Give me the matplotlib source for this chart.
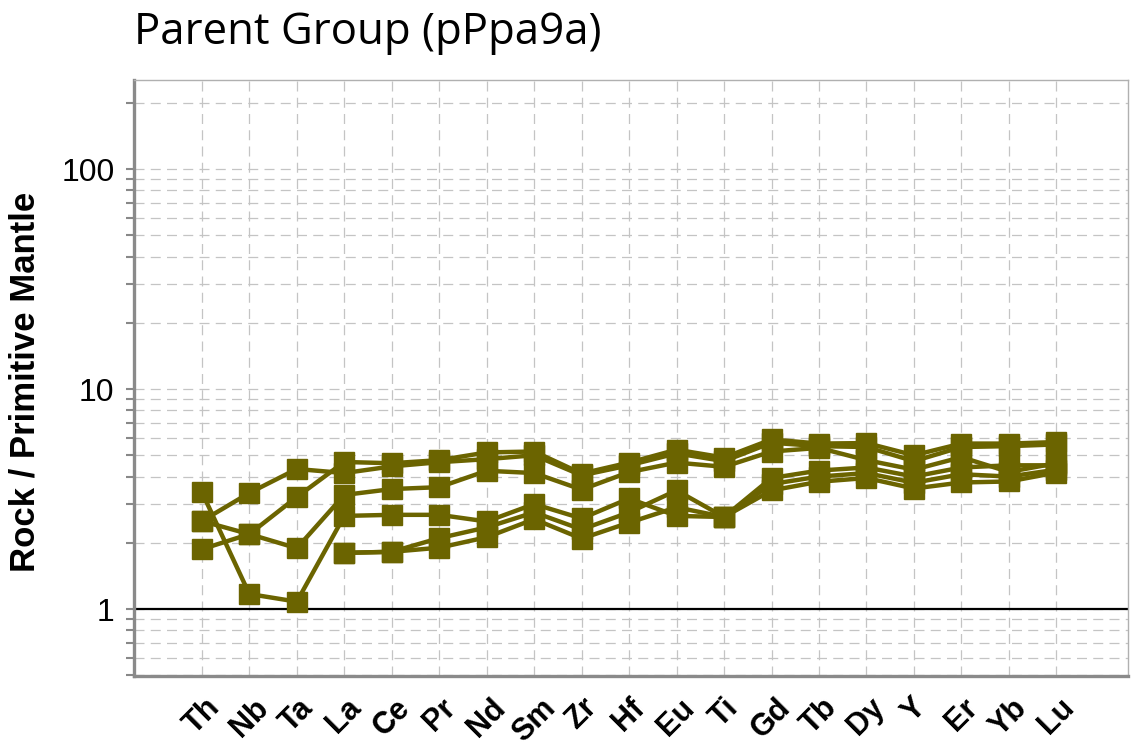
import numpy as np
import matplotlib
matplotlib.use("Agg")
import matplotlib.pyplot as plt
from matplotlib.ticker import LogLocator, FixedLocator, NullFormatter

elements = ["Th", "Nb", "Ta", "La", "Ce", "Pr", "Nd", "Sm", "Zr", "Hf",
            "Eu", "Ti", "Gd", "Tb", "Dy", "Y", "Er", "Yb", "Lu"]

nan = np.nan
sample_A = [3.40, 1.17, 1.08, 2.65, 2.68, 2.68, 2.50, 3.00, 2.58, 3.18,
            2.65, 2.62, 3.94, 4.26, 4.40, 4.00, 4.40, 4.50, 4.50]
sample_B = [2.51, 3.37, 4.33, 4.15, 4.45, 4.65, 4.80, 5.00, 4.05, 4.50,
            5.10, 4.70, 5.70, 5.50, 5.45, 4.70, 5.45, 5.50, 5.60]
sample_C = [2.51, 2.19, 1.89, 3.30, 3.51, 3.58, 4.25, 4.15, 3.49, 4.19,
            4.63, 4.43, 5.20, 5.40, 4.75, 4.30, 4.90, 4.20, 4.60]
sample_D = [1.87, 2.19, 3.23, 4.66, 4.60, 4.75, 5.15, 5.20, 4.13, 4.63,
            5.30, 4.88, 5.90, 5.65, 5.68, 5.00, 5.65, 5.65, 5.74]
sample_E = [nan, nan, nan, 1.80, 1.82, 2.10, 2.35, 2.75, 2.30, 2.75,
            3.46, 2.62, 3.70, 4.00, 4.15, 3.75, 4.10, 4.00, 4.30]
sample_F = [nan, nan, nan, 1.80, 1.82, 1.90, 2.12, 2.56, 2.09, 2.47,
            2.90, 2.62, 3.46, 3.79, 3.94, 3.53, 3.76, 3.80, 4.17]

series = [sample_A, sample_B, sample_C, sample_D, sample_E, sample_F]

title = "Parent Group (pPpa9a)"
ylabel = "Rock / Primitive Mantle"

color = "#6b6400"

fig = plt.figure(figsize=(11.36, 7.55), dpi=100)
ax = fig.add_axes([134/1136, 1 - 676/755, (1128-134)/1136, (676-80)/755])

x = np.arange(len(elements))
for s in series:
    ax.plot(x, s, color=color, lw=3.2, marker="s", markersize=15,
            markeredgecolor=color, markerfacecolor=color, zorder=3,
            solid_joinstyle="round")

ax.axhline(1, color="black", lw=1.6, zorder=2)

ax.set_yscale("log")
ax.set_ylim(0.496, 254)
ax.set_xlim(-1.43, 19.51)

ax.yaxis.set_major_locator(FixedLocator([1, 10, 100]))
ax.set_yticklabels(["1", "10", "100"])
ax.yaxis.set_minor_locator(LogLocator(base=10, subs=np.arange(2, 10), numticks=20))
ax.yaxis.set_minor_formatter(NullFormatter())

ax.set_xticks(x)
ax.set_xticklabels(elements, rotation=45, ha="center", va="top",
                   fontfamily="Liberation Sans", fontweight="bold", fontsize=22)
ax.tick_params(axis="x", length=0, pad=12)
ax.tick_params(axis="y", which="both", direction="out", length=6, width=1.5,
               color="#888888", labelsize=23, pad=8)
for lab in ax.get_yticklabels():
    lab.set_fontfamily("Liberation Sans")

grid_kw = dict(color="#c4c4c4", lw=0.9, linestyle=(0, (8, 5)), zorder=0)
ax.grid(True, which="major", axis="both", **grid_kw)
ax.grid(True, which="minor", axis="y", **grid_kw)
ax.set_axisbelow(True)

for side in ["left", "bottom"]:
    ax.spines[side].set_color("#8a8a8a")
    ax.spines[side].set_linewidth(2.4)
for side in ["top", "right"]:
    ax.spines[side].set_color("#b0b0b0")
    ax.spines[side].set_linewidth(1.0)

fig.text(134/1136, 1 - 33/755, title, fontsize=31.5, fontfamily="Open Sans",
         ha="left", va="center", color="black")
fig.text(25/1136, 1 - 382/755, ylabel, rotation=90, fontsize=25,
         fontfamily="Liberation Sans", fontweight="bold", ha="center", va="center")

fig.savefig("out.png", dpi=100)
